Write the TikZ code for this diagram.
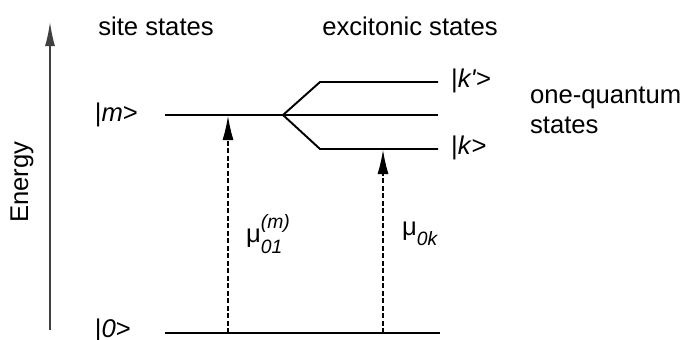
\documentclass[tikz,border=0pt]{standalone}
\usepackage{amsmath}
\usepackage{fontspec}
\setmainfont{Liberation Sans}
\usepackage{tikz}
\usetikzlibrary{arrows.meta,positioning,calc}

\begin{document}
\begin{tikzpicture}[
  x=0.02cm, y=-0.02cm,
  font=\fontsize{14.6}{17}\selectfont,
  level/.style={line width=1.1pt, draw=black},
  axis/.style={-{Latex[length=0.48cm,width=0.2cm]}, line width=0.9pt, draw=black!75},
  trans/.style={-{Latex[length=0.48cm,width=0.22cm]}, line width=0.6pt, draw=black,
                dash pattern=on 0.1cm off 0.05cm},
  lbl/.style={inner sep=1pt},
  scr/.style={font=\fontsize{11}{12}\selectfont\itshape}
]
\useasboundingbox (0,0) rectangle (685,339);
% energy axis
\coordinate (ebot) at (50,330);
\coordinate (etop) at (50,22);
\draw[axis] (ebot) -- (etop);
\node[rotate=90] (energy) at (22,182) {Energy};
% headings
\node[lbl] (site) at (156,26) {site states};
\node[lbl] (exc) at (410,26) {excitonic states};
% levels
\coordinate (m0) at (165,115);
\coordinate (split) at (283,115);
\coordinate (mend) at (438,115);
\coordinate (kp0) at (320,82);
\coordinate (kpend) at (438,82);
\coordinate (k0) at (320,149);
\coordinate (kend) at (438,149);
\coordinate (g0) at (165,333);
\coordinate (gend) at (440,333);
\draw[level] (m0) -- (split) -- (mend);
\draw[level] (split) -- (kp0) -- (kpend);
\draw[level] (split) -- (k0) -- (kend);
\draw[level] (g0) -- (gend);
% state labels
\node[lbl, anchor=east] (m) at (140,115) {|\textit{m}>};
\node[lbl, anchor=east] (zero) at (133,331) {|\textit{0}>};
\node[lbl, anchor=west] (kp) at (449,81) {|\textit{k\textquotesingle}>};
\node[lbl, anchor=west] (k) at (449,148) {|\textit{k}>};
\node[lbl, anchor=west, align=left] (oneq) at (528,110) {one-quantum\\states};
% transitions
\coordinate (t1b) at (228,333);
\coordinate (t1t) at (228,116);
\coordinate (t2b) at (383,333);
\coordinate (t2t) at (383,150);
\draw[trans] (t1b) -- (t1t);
\draw[trans] (t2b) -- (t2t);
\node[lbl, anchor=west] (mu1) at (244,234) {μ\rlap{\raisebox{8pt}{\scriptsize\itshape\fontsize{11}{12}\selectfont(m)}}\raisebox{-6pt}{\fontsize{11}{12}\selectfont\itshape 01}};
\node[lbl, anchor=west] (mu2) at (400,234) {μ\raisebox{-6pt}{\fontsize{11}{12}\selectfont\itshape 0k}};
\end{tikzpicture}
\end{document}
